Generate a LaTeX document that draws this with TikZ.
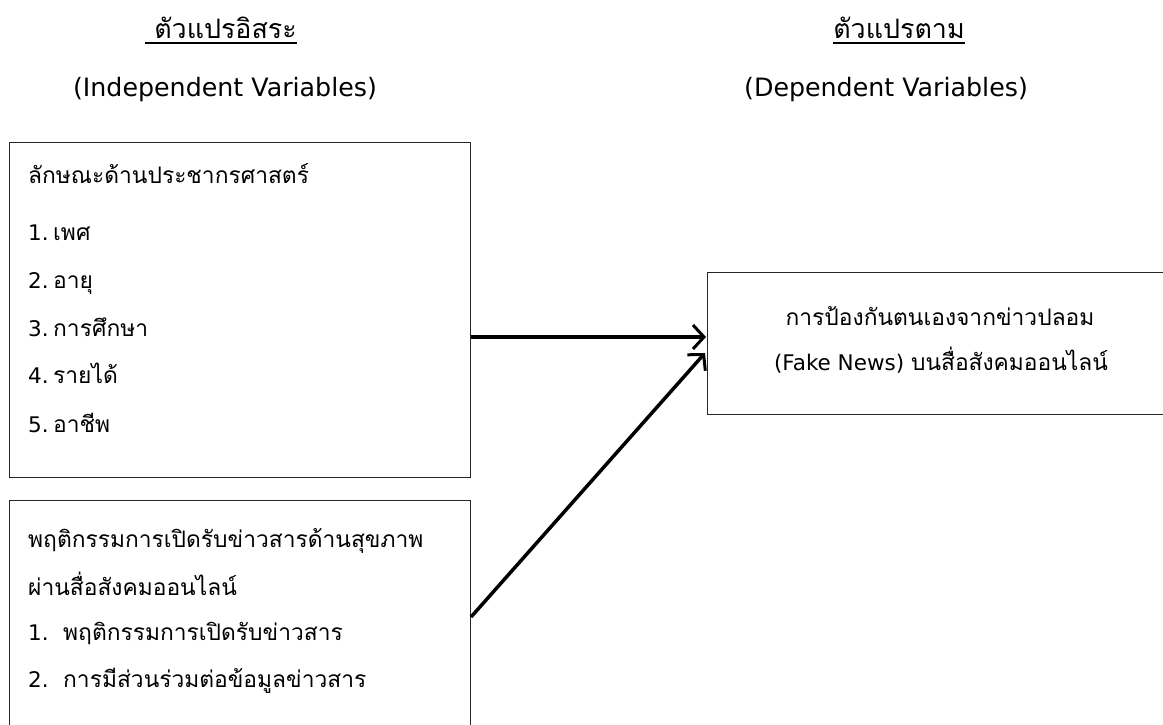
\documentclass[tikz,border=0pt]{standalone}
\usepackage{fontspec}
\setmainfont{DejaVu Sans}
\newfontfamily\thai[Script=Thai,Scale=1.06]{Loma}
\usetikzlibrary{arrows.meta,calc}
\begin{document}
\begin{tikzpicture}[x=1pt,y=-1pt,
  box/.style={draw=black!85,line width=1pt,anchor=north west,inner sep=0pt},
  txt/.style={anchor=base west,inner sep=0pt,font=\fontsize{21.5}{25}\selectfont},
  ctxt/.style={anchor=base,inner sep=0pt,font=\fontsize{21.5}{25}\selectfont},
  head/.style={anchor=base,inner sep=0pt,font=\fontsize{25.3}{30}\selectfont},
  uline/.style={line width=1.2pt},
  conn/.style={line width=3.5pt,-{Straight Barb[length=11pt,width=24pt,line width=3pt]}}]
\useasboundingbox (0,0) rectangle (1163,725);
\clip (0,0) rectangle (1163,725);
% headers
\node[head] (h1) at (221,39) {\thai\ ตัวแปรอิสระ};
\draw[uline] ([yshift=-4pt]h1.base west) -- ([yshift=-4pt]h1.base east);
\node[head] (h1e) at (225,96) {(Independent Variables)};
\node[head] (h2) at (899,39) {\thai ตัวแปรตาม};
\draw[uline] ([yshift=-4pt]h2.base west) -- ([yshift=-4pt]h2.base east);
\node[head] (h2e) at (886,96) {(Dependent Variables)};
% boxes
\node[box,minimum width=461pt,minimum height=335pt] (b1) at (9,142) {};
\node[box,minimum width=461pt,minimum height=260pt] (b2) at (9,500) {};
\node[box,minimum width=480pt,minimum height=142pt] (b3) at (707,272) {};
% box 1 text
\node[txt] (t10) at (28,183) {\thai ลักษณะด้านประชากรศาสตร์};
\node[txt] (t11) at (28,240) {\makebox[25pt][l]{1.}{\thai เพศ}};
\node[txt] (t12) at (28,288) {\makebox[25pt][l]{2.}{\thai อายุ}};
\node[txt] (t13) at (28,336) {\makebox[25pt][l]{3.}{\thai การศึกษา}};
\node[txt] (t14) at (28,383) {\makebox[25pt][l]{4.}{\thai รายได้}};
\node[txt] (t15) at (28,432) {\makebox[25pt][l]{5.}{\thai อาชีพ}};
% box 2 text
\node[txt] (t20) at (28,547) {\thai พฤติกรรมการเปิดรับข่าวสารด้านสุขภาพ};
\node[txt] (t21) at (28,595) {\thai ผ่านสื่อสังคมออนไลน์};
\node[txt] (t22) at (28,640) {\makebox[35pt][l]{1.}{\thai พฤติกรรมการเปิดรับข่าวสาร}};
\node[txt] (t23) at (28,687) {\makebox[35pt][l]{2.}{\thai การมีส่วนร่วมต่อข้อมูลข่าวสาร}};
% box 3 text
\node[ctxt] (t30) at (940,325) {\thai การป้องกันตนเองจากข่าวปลอม};
\node[ctxt] (t31) at (941,370) {(Fake News) {\thai บนสื่อสังคมออนไลน์}};
% connectors
\coordinate (s1) at ($(b1.north east)+(0,195)$);
\coordinate (e1) at ($(b3.north west)+(-1,65)$);
\coordinate (s2) at ($(b2.north east)+(0,117)$);
\coordinate (e2) at ($(b3.north west)+(-2,81)$);
\draw[conn] (s1) -- (e1);
\draw[conn] (s2) -- (e2);
\end{tikzpicture}
\end{document}
